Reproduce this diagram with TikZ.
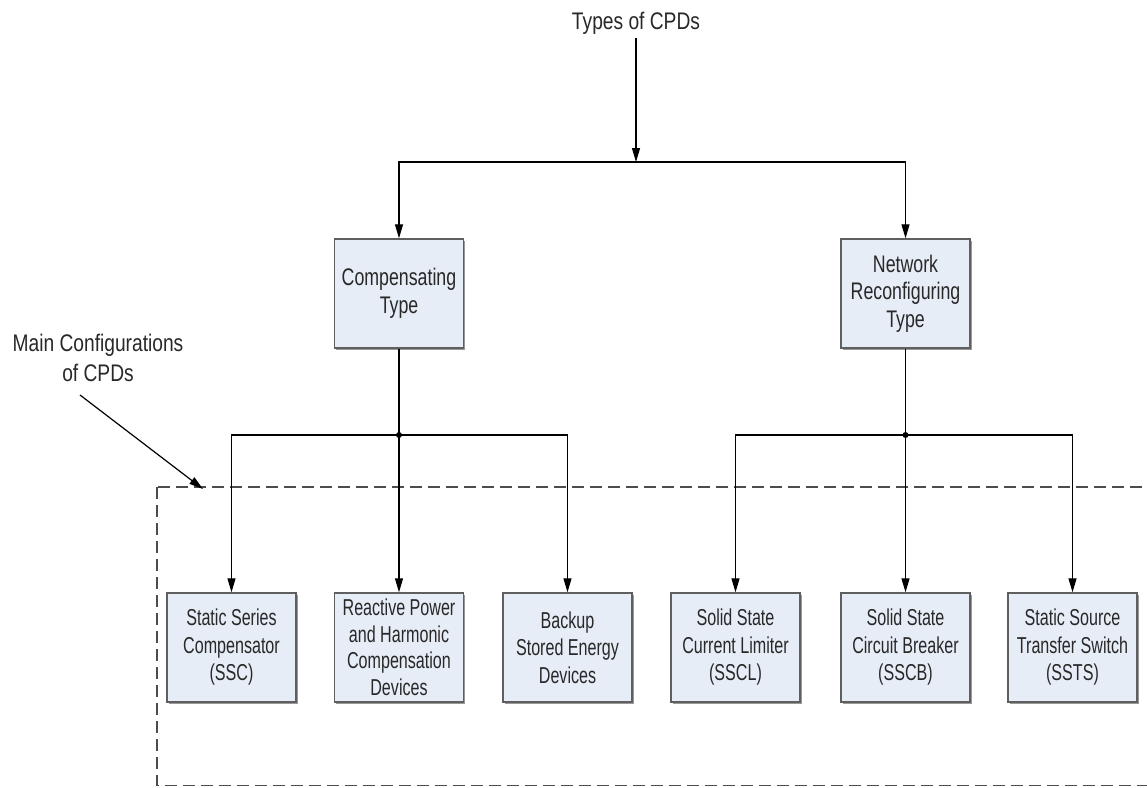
\documentclass[tikz,border=0pt]{standalone}
\usepackage{fontspec}
\setmainfont{Liberation Sans}[FakeStretch=0.8]
\newfontfamily\typefont{Liberation Sans}[FakeStretch=0.74]
\newfontfamily\cfgfont{Liberation Sans}[FakeStretch=0.7]
\usetikzlibrary{arrows.meta,shadows}
\definecolor{boxfill}{RGB}{231,237,247}
\definecolor{boxedge}{RGB}{95,95,95}
\definecolor{txtgray}{RGB}{40,40,40}

\begin{document}
\begin{tikzpicture}[x=1pt,y=-1pt,
  every node/.style={font=\fontsize{24}{30}\selectfont,text=txtgray},
  cpdbox/.style={draw=boxedge,line width=1.4pt,fill=boxfill,
    minimum width=129pt,minimum height=109pt,inner sep=0pt,align=center,
    drop shadow={shadow xshift=1.5pt,shadow yshift=-1.5pt,fill=black!50,opacity=0.8}},
  typebox/.style={cpdbox,font=\typefont\fontsize{24}{27.5}\selectfont},
  cfgbox/.style={cpdbox,font=\cfgfont\fontsize{23}{27.5}\selectfont},
  arr/.style={line width=1.2pt,-{Triangle[length=14pt,width=8pt]}},
  link/.style={line width=1.2pt},
  cfgframe/.style={black!70,line width=1.4pt,dash pattern=on 12pt off 6pt}]
  \useasboundingbox (0,0) rectangle (1147,787);
  % frame round the main configurations
  \draw[cfgframe] (157,487) rectangle (1170,785.5);
  % top level
  \node (types) at (636,23) {Types of CPDs};
  \node[typebox] (comp) at (399,293.5) {Compensating\\Type};
  \node[typebox] (net) at (905.5,293.5) {Network\\Reconfiguring\\Type};
  \coordinate (tj) at (636,162);
  \draw[arr] (types) -- (tj);
  \draw[arr] (tj) -| (comp);
  \draw[arr] (tj) -| (net);
  % configurations
  \node[cfgbox] (ssc) at (231.5,647.5) {Static Series\\Compensator\\(SSC)};
  \node[cfgbox,font=\cfgfont\fontsize{23}{26.5}\selectfont] (rphc) at (399,647.5)
    {Reactive Power\\and Harmonic\\Compensation\\Devices};
  \node[cfgbox] (bsed) at (567.5,647.5) {Backup\\Stored Energy\\Devices};
  \node[cfgbox] (sscl) at (735.5,647.5) {Solid State\\Current Limiter\\(SSCL)};
  \node[cfgbox] (sscb) at (905.5,647.5) {Solid State\\Circuit Breaker\\(SSCB)};
  \node[cfgbox] (ssts) at (1072.5,647.5) {Static Source\\Transfer Switch\\(SSTS)};
  \coordinate (cj) at (399,435);
  \coordinate (nj) at (905.5,435);
  \draw[link] (comp) -- (cj);
  \draw[link] (net) -- (nj);
  \fill (cj) circle (3pt);
  \fill (nj) circle (3pt);
  \draw[arr] (cj) -| (ssc);
  \draw[arr] (cj) -- (rphc);
  \draw[arr] (cj) -| (bsed);
  \draw[arr] (nj) -| (sscl);
  \draw[arr] (nj) -- (sscb);
  \draw[arr] (nj) -| (ssts);
  % label for the frame
  \node[align=center] (mainlbl) at (98,358) {Main Configurations\\of CPDs};
  \coordinate (mcfrom) at (80,395);
  \coordinate (mcto) at (203,489);
  \draw[arr] (mcfrom) -- (mcto);
\end{tikzpicture}
\end{document}
